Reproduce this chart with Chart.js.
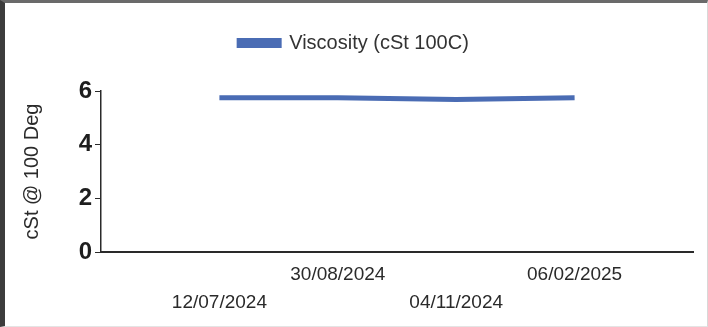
<!DOCTYPE html>
<html>
<head>
<meta charset="utf-8">
<script src="https://cdn.jsdelivr.net/npm/chart.js@4.4.1/dist/chart.umd.min.js"></script>
<style>
    html, body { margin: 0; padding: 0; background: #fff; }
    #frame {
        width: 708px;
        height: 327px;
        box-sizing: border-box;
        border-left: 5px solid #3c3c3c;
        border-top: 3px solid #6a6a6a;
        border-right: 1px solid #d8d8d8;
        border-bottom: 1px solid #e4e4e4;
        position: relative;
    }
    #wrap { position: absolute; left: 0; top: 0; right: 0; bottom: 0; }
</style>
</head>
<body>
<div id="frame">
    <div id="wrap"><canvas id="viscChart"></canvas></div>
</div>
<script>
const dates = ['12/07/2024', '30/08/2024', '04/11/2024', '06/02/2025'];
const viscosity = [5.75, 5.75, 5.68, 5.75];
const yTicks = [0, 2, 4, 6];

document.addEventListener('DOMContentLoaded', () => {
    // empty slot at each end, like the original axis
    const labels = [''].concat(dates, ['']);
    const values = [null].concat(viscosity, [null]);

    // extra room under the legend
    const legendGap = {
        id: 'legendGap',
        beforeInit(chart) {
            const fit = chart.legend.fit;
            chart.legend.fit = function() {
                fit.bind(chart.legend)();
                this.height += 28;
            };
        }
    };

    const ctx = document.getElementById('viscChart').getContext('2d');
    new Chart(ctx, {
        type: 'line',
        data: {
            labels: labels,
            datasets: [{
                label: 'Viscosity (cSt 100C)',
                data: values,
                borderColor: '#4a6cb4',
                backgroundColor: '#4a6cb4',
                borderWidth: 5,
                pointRadius: 0,
                tension: 0
            }]
        },
        plugins: [legendGap],
        options: {
            responsive: true,
            maintainAspectRatio: false,
            animation: false,
            layout: { padding: { top: 20, left: 10, right: 14, bottom: 8 } },
            plugins: {
                tooltip: { enabled: false },
                legend: {
                    labels: {
                        boxWidth: 40,
                        boxHeight: 5,
                        color: '#333',
                        padding: 10,
                        font: { family: 'Liberation Sans, Arial', size: 20 }
                    }
                }
            },
            scales: {
                x: {
                    offset: false,
                    grid: { display: false },
                    border: { color: '#2a2a2a', width: 2 },
                    ticks: {
                        autoSkip: false,
                        maxRotation: 0,
                        color: '#2a2a2a',
                        padding: 1,
                        font: { family: 'Liberation Sans, Arial', size: 19, lineHeight: 1.47 },
                        callback: function(val, i) {
                            const t = labels[i];
                            // stagger the dates on two rows
                            return (i % 2 === 1) ? ['', t] : t;
                        }
                    },
                    afterFit: s => { s.height = 66; }
                },
                y: {
                    min: 0,
                    max: 6,
                    afterBuildTicks: s => { s.ticks = yTicks.map(v => ({ value: v })); },
                    grid: { drawOnChartArea: false, tickLength: 6, color: '#2a2a2a' },
                    border: { color: '#2a2a2a', width: 1.5 },
                    ticks: {
                        color: '#1e1e1e',
                        padding: 3,
                        font: { family: 'Liberation Sans, Arial', size: 24, weight: 'bold' }
                    },
                    title: {
                        display: true,
                        text: 'cSt @ 100 Deg',
                        color: '#2a2a2a',
                        padding: { top: 5, bottom: 4 },
                        font: { family: 'Liberation Sans, Arial', size: 20 }
                    },
                    afterFit: s => { s.width = 86; }
                }
            }
        }
    });
});
</script>
</body>
</html>
